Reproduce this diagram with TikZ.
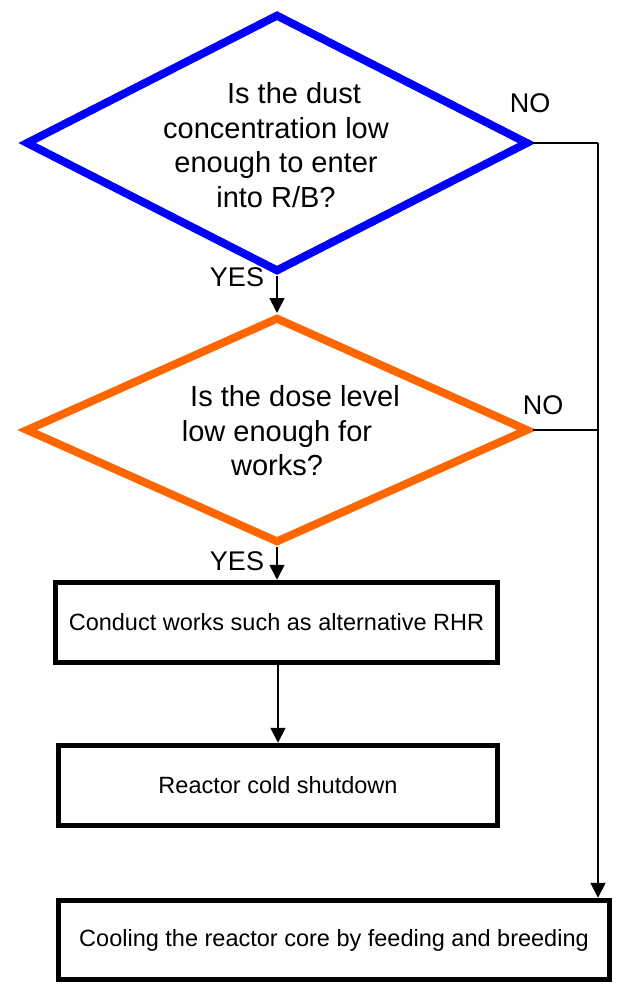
\documentclass[tikz,border=0pt]{standalone}
\usepackage{fontspec}
\setmainfont{Liberation Sans}
\usetikzlibrary{shapes.geometric,arrows.meta}
\definecolor{dblue}{RGB}{0,0,255}
\definecolor{dorange}{RGB}{255,102,0}
\begin{document}
\begin{tikzpicture}[x=1pt,y=-1pt,
  decision/.style={diamond,draw,line width=8pt,minimum width=503pt,inner sep=0pt},
  dtext/.style={align=center,font=\fontsize{29}{34.5}\selectfont,inner sep=0pt},
  procbox/.style={rectangle,draw=black,line width=5.5pt,inner sep=0pt,font=\fontsize{23.5}{28}\selectfont},
  lbl/.style={font=\fontsize{27}{32}\selectfont,inner sep=0pt},
  conn/.style={draw=black,line width=1.8pt},
  arr/.style={conn,-{Triangle[length=15pt,width=15pt]}}]
\useasboundingbox (0,0) rectangle (616,984);
\node[decision,draw=dblue,minimum height=258pt] (d1) at (277,143) {};
\node[dtext] (t1) at (276,145) {\hspace*{36pt}Is the dust\\concentration low\\enough to enter\\into R/B?};
\node[decision,draw=dorange,minimum height=226pt] (d2) at (277,430) {};
\node[dtext] (t2) at (277,431) {\hspace*{36pt}Is the dose level\\low enough for\\works?};
\node[procbox,minimum width=442pt,minimum height=80pt] (b1) at (276.5,622.5) {Conduct works such as alternative RHR};
\node[procbox,minimum width=439pt,minimum height=80pt] (b2) at (278,785.5) {Reactor cold shutdown};
\node[procbox,minimum width=551pt,minimum height=79pt] (b3) at (334,940) {Cooling the reactor core by feeding and breeding};
\node[lbl] (y1) at (237,277) {YES};
\node[lbl] (y2) at (237,561) {YES};
\node[lbl] (n1) at (530,103) {NO};
\node[lbl] (n2) at (543,405) {NO};
\coordinate (r1) at (598,143);
\coordinate (r2) at (598,430);
\draw[arr] (d1.south) -- (d2.north);
\draw[arr] (d2.south) -- (b1.north -| d2.south);
\draw[arr] (b1.south -| b2.north) -- (b2.north);
\draw[conn] (d1.east) -- (r1);
\draw[arr] (r1) -- (r1 |- b3.north);
\draw[conn] (d2.east) -- (r2);
\end{tikzpicture}
\end{document}
